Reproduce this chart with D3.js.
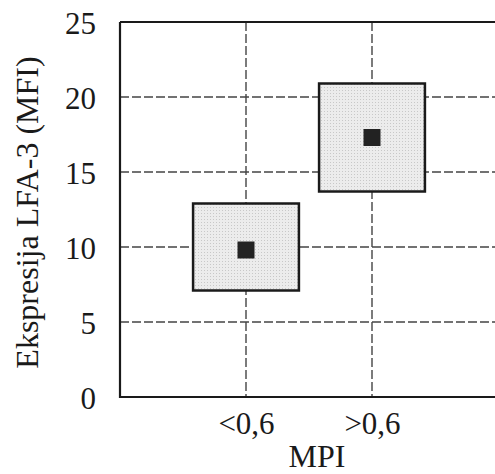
<!DOCTYPE html>
<html>
<head>
<meta charset="utf-8">
<script src="https://cdn.jsdelivr.net/npm/d3@7"></script>
<style>
html,body{margin:0;padding:0;background:#fff;}
svg{display:block;}
text{font-family:"Liberation Serif","Times New Roman",serif;fill:#1a1a1a;}
</style>
</head>
<body>
<svg id="chart" width="495" height="474"></svg>
<script>
const categories = ["<0,6", ">0,6"];
const means = [9.8, 17.3];
const boxLow = [7.1, 13.7];
const boxHigh = [12.9, 20.9];
const yTicks = [0, 5, 10, 15, 20, 25];
const yTitle = "Ekspresija LFA-3 (MFI)";
const xTitle = "MPI";

const svg = d3.select("#chart");
const m = {left:120, top:22, right:498, bottom:397};

const x = d3.scalePoint().domain(categories).range([m.left, m.right]).padding(1);
const y = d3.scaleLinear().domain([0, 25]).range([m.bottom, m.top]);
const step = x.step();
const boxW = step * 0.84;
const markW = 17;

// pattern for box fill
const defs = svg.append("defs");
const pat = defs.append("pattern").attr("id","dots").attr("width",3).attr("height",3)
  .attr("patternUnits","userSpaceOnUse");
pat.append("rect").attr("width",3).attr("height",3).attr("fill","#ececec");
pat.append("rect").attr("width",1).attr("height",1).attr("fill","#c8c8c8");

// gridlines
const grid = svg.append("g").attr("stroke","#444").attr("stroke-width",1.4)
  .attr("stroke-dasharray","9,3");
grid.selectAll("line.h").data(yTicks.filter(t => t > 0 && t < 25)).join("line")
  .attr("class","h").attr("x1", m.left).attr("x2", m.right)
  .attr("y1", d => y(d)).attr("y2", d => y(d));
grid.selectAll("line.v").data(categories).join("line")
  .attr("class","v").attr("x1", d => x(d)).attr("x2", d => x(d))
  .attr("y1", m.top).attr("y2", m.bottom);

// boxes
const data = categories.map((c,i) => ({c, mean:means[i], lo:boxLow[i], hi:boxHigh[i]}));
svg.selectAll("rect.box").data(data).join("rect").attr("class","box")
  .attr("x", d => x(d.c) - boxW/2).attr("width", boxW)
  .attr("y", d => y(d.hi)).attr("height", d => y(d.lo) - y(d.hi))
  .attr("fill","url(#dots)").attr("stroke","#1a1a1a").attr("stroke-width",2.5);
svg.selectAll("rect.mean").data(data).join("rect").attr("class","mean")
  .attr("x", d => x(d.c) - markW/2).attr("width", markW)
  .attr("y", d => y(d.mean) - markW/2).attr("height", markW)
  .attr("fill","#222");

// frame
svg.append("path")
  .attr("d", `M${m.left},${m.top}H${m.right}M${m.left},${m.top}V${m.bottom}H${m.right}`)
  .attr("fill","none").attr("stroke","#1a1a1a").attr("stroke-width",2.2);

// y axis
const ya = svg.append("g").attr("transform",`translate(${m.left},0)`)
  .call(d3.axisLeft(y).tickValues(yTicks).tickSize(0).tickPadding(24));
ya.select(".domain").remove();
ya.selectAll("text").attr("font-size",31).attr("font-family","Liberation Serif").attr("fill","#1a1a1a").attr("dy","0.36em");

// x axis
const xa = svg.append("g").attr("transform",`translate(0,${m.bottom})`)
  .call(d3.axisBottom(x).tickSize(0).tickPadding(15));
xa.select(".domain").remove();
xa.selectAll("text").attr("font-size",31).attr("font-family","Liberation Serif").attr("fill","#1a1a1a");

// titles
svg.append("text").attr("x", (m.left+m.right)/2 + 8).attr("y", 467)
  .attr("text-anchor","middle").attr("font-size",32).text(xTitle);
svg.append("text").attr("transform",`translate(38,${(m.top+m.bottom)/2 + 3}) rotate(-90)`)
  .attr("text-anchor","middle").attr("font-size",32).text(yTitle);
</script>
</body>
</html>
